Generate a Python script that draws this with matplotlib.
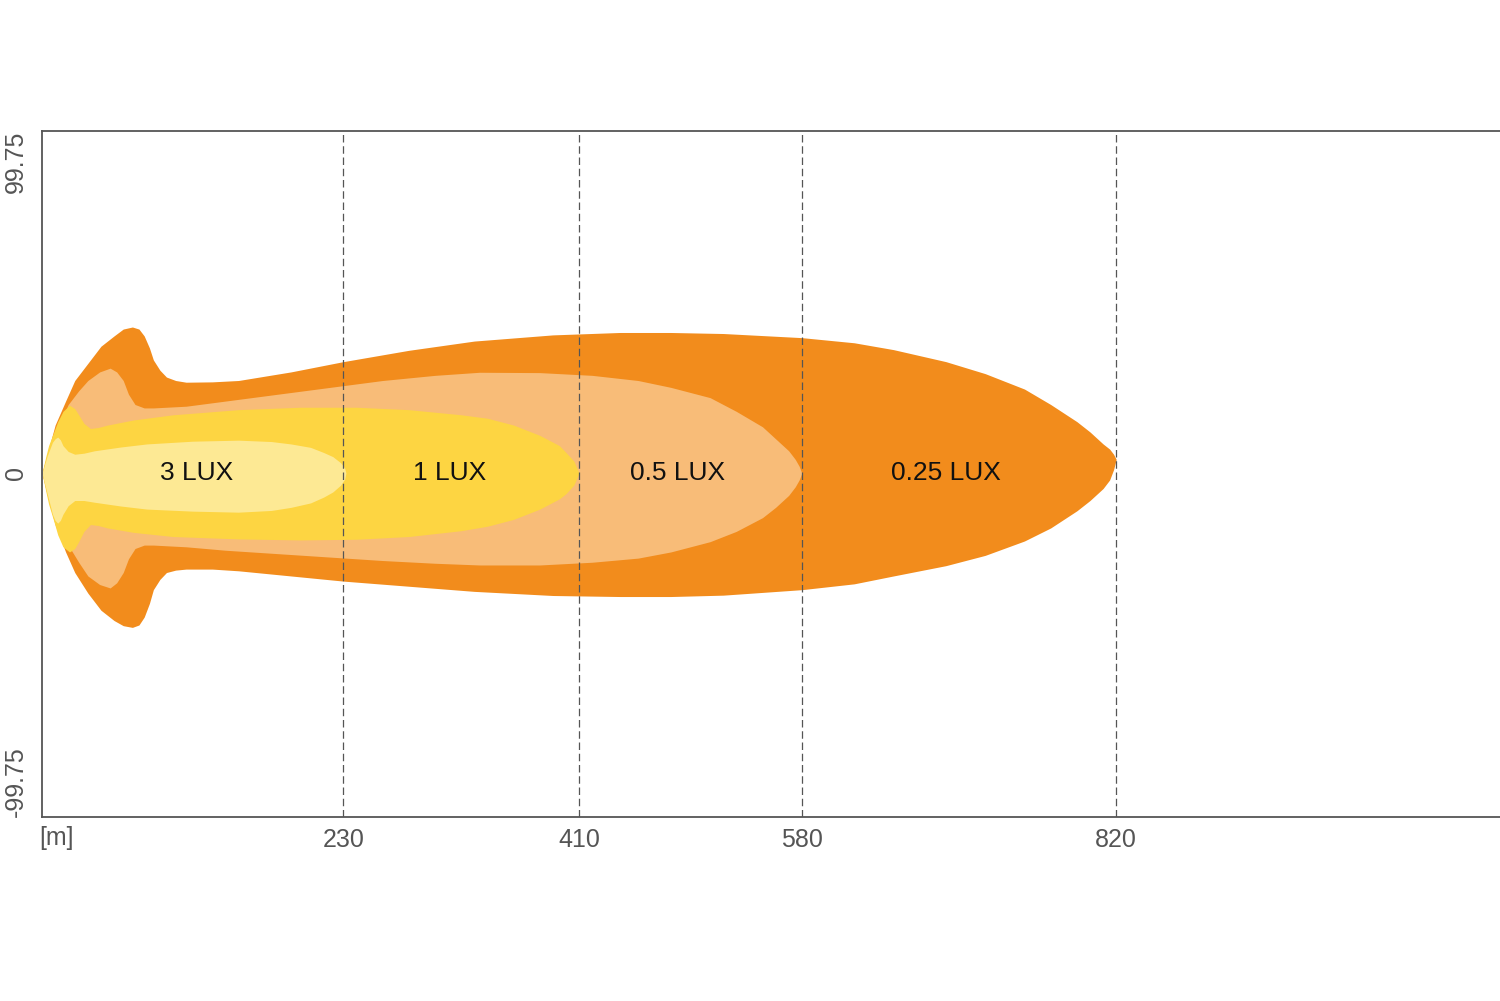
import matplotlib
matplotlib.use("Agg")
import matplotlib.pyplot as plt

plt.rcParams['font.family'] = ['Liberation Sans', 'DejaVu Sans']

# contour keypoints (distance m, upper, lower half-widths)
q25_x = [0,5,10,18,25,35,45,55,62,69,74,78,82,85,90,95,102,110,130,150,190,230,280,330,390,441,480,520,580,620,650,690,720,750,770,790,800,810,815,818,820]
q25_up = [0,7,14,21,27,32,37,40,42,42.6,42,40,36.5,33,30,28,27,26.5,26.6,27,29.5,32.5,35.8,38.5,40.3,41,41,40.7,39.5,38,36,32.5,29,24.5,20,15,12,8.5,7,5.5,4]
q25_lo = [0,-8,-15,-23,-29,-35,-40,-43,-44.5,-45,-44.3,-42,-38,-34,-31,-29,-28.3,-28,-28,-28.5,-30,-31.5,-33,-34.5,-35.7,-36,-36,-35.6,-34,-32.3,-30,-27,-24,-19.8,-16,-11,-8,-4.5,-2,1,4]
q5_x = [0,4,8,14,20,28,35,44,52,57,62,66,71,78,85,95,110,140,180,220,260,300,334,380,420,455,480,510,530,550,560,570,575,578,580]
q5_up = [0,5,10,15,20,24,27,29.5,30.6,29.5,27,23,20,19,19,19.2,19.5,21,23,25,27,28.5,29.4,29.3,28.5,27,25,22,18,13.5,10,6.5,4,2,0]
q5_lo = [0,-5,-10,-16,-21,-26,-30,-32.5,-33.5,-32,-29,-25,-22,-21,-21,-21.2,-21.5,-22.5,-23.5,-24.5,-25.5,-26.3,-26.8,-26.8,-26,-24.8,-23,-20,-17,-13,-10,-6.5,-4,-2,0]
q1_x = [0,3,5,9,12,16,21,25,28,32,37,43,50,70,100,150,197,240,280,320,340,360,380,395,400,406,410]
q1_up = [0,5,8,12,15,18,19.8,18.8,17,14.5,13,13.3,14,15.5,17,18.5,19.2,19.2,18.5,17,16,14,11,8,6,3.5,0]
q1_lo = [0,-5.5,-9,-14,-18,-21.5,-23,-22,-20,-17,-15,-15.3,-16,-17.3,-18.5,-19.2,-19.5,-19.3,-18.5,-16.8,-15.5,-13.5,-10.5,-7.5,-6,-3.5,0]
q3_x = [0,2,4,6,8,10,12,14,16,20,25,32,40,60,80,115,150,175,190,205,215,222,228,231,232]
q3_up = [0,2.5,5,7,9,10,10.5,9.7,8,6.3,5.5,5.8,6.5,7.6,8.5,9.3,9.6,9.2,8.5,7.5,6,4.8,3,1.5,0]
q3_lo = [0,-3,-6,-9,-12,-13.8,-14.6,-13.8,-12,-9.5,-8,-8,-8.5,-9.6,-10.5,-11.1,-11.4,-10.9,-10,-8.7,-7,-5.5,-3.5,-1.8,0]

labels = ["3 LUX", "1 LUX", "0.5 LUX", "0.25 LUX"]
label_x = [118, 311, 485, 690]
ticks = [230, 410, 580, 820]

fig = plt.figure(figsize=(15, 10.01), dpi=100)
ax = fig.add_axes([0.028, 0.1838, 0.972, 0.6853])
ax.set_xlim(0, 1113)
ax.set_ylim(-100.3, 99.75)

for xs, up, lo, c in [(q25_x, q25_up, q25_lo, "#F28C1C"),
                      (q5_x, q5_up, q5_lo, "#F8BC78"),
                      (q1_x, q1_up, q1_lo, "#FDD542"),
                      (q3_x, q3_up, q3_lo, "#FDE994")]:
    ax.fill_between(xs, lo, up, color=c, lw=0)

for t in ticks:
    ax.axvline(t, color="#555555", ls=(0, (6, 3)), lw=0.9)

for l, x in zip(labels, label_x):
    ax.text(x, 0, l, ha="center", va="center", fontsize=19, color="#111111")

for s in ["top", "bottom", "left"]:
    ax.spines[s].set_color("#555555")
    ax.spines[s].set_linewidth(1.3)
ax.spines["right"].set_visible(False)
ax.set_xticks(ticks)
ax.set_xticklabels([str(t) for t in ticks], fontsize=18, color="#555555")
ax.tick_params(length=0, pad=8)
ax.set_yticks([])
ax.text(-2, -103, "[m]", ha="left", va="top", fontsize=18, color="#555555")
ax.text(-20, 99.75, "99.75", rotation=90, ha="center", va="top", fontsize=18, color="#555555")
ax.text(-20, 0, "0", rotation=90, ha="center", va="center", fontsize=18, color="#555555")
ax.text(-20, -100.3, "-99.75", rotation=90, ha="center", va="bottom", fontsize=18, color="#555555")
fig.savefig("out.png")
